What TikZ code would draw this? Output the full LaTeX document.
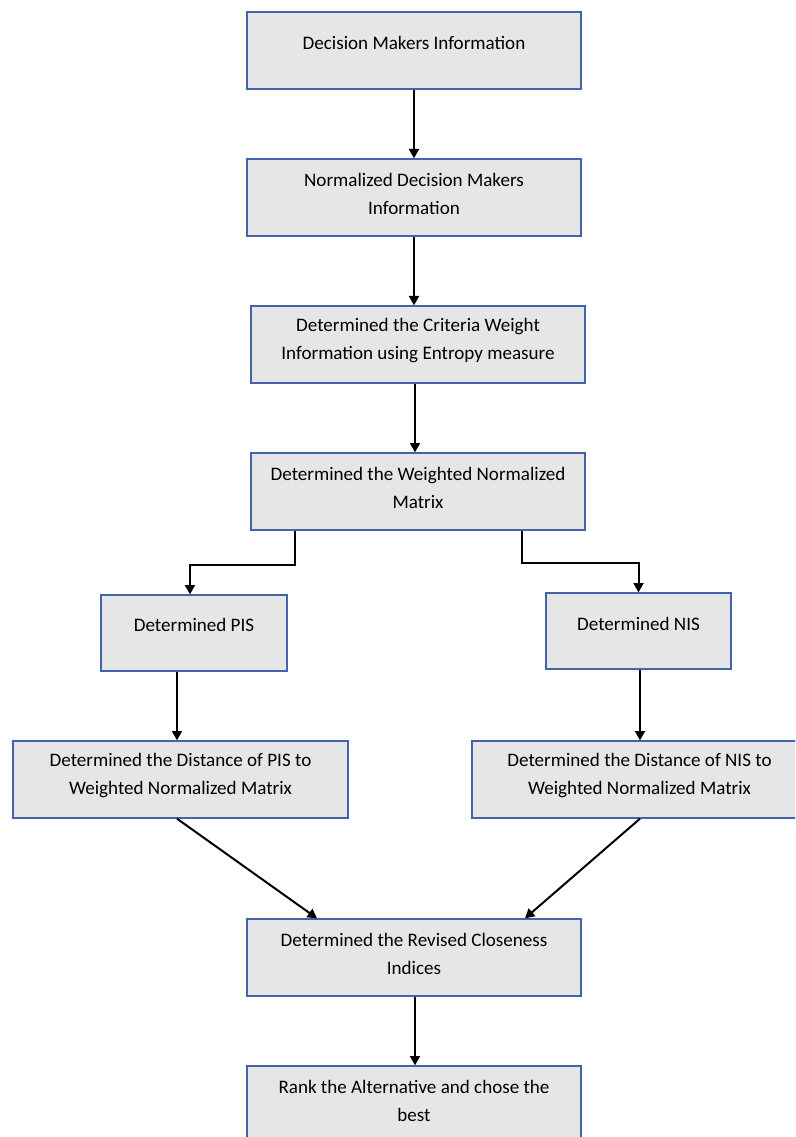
\documentclass[tikz,border=0pt]{standalone}
\usepackage{fontspec}
\setmainfont{Carlito}
\usetikzlibrary{calc,arrows.meta}
\definecolor{boxfill}{HTML}{E7E6E6}
\definecolor{boxline}{RGB}{68,100,170}
\def\pxu{0.75pt}
\tikzset{
  box/.style={draw=boxline, fill=boxfill, line width=1pt, inner sep=0pt},
  txt/.style={align=center, font=\fontsize{14.3}{21}\selectfont, text=black, inner sep=0pt},
  arr/.style={draw=black, line width=1.5pt, -{Triangle[length=7pt,width=7.5pt]}}
}
\begin{document}
\begin{tikzpicture}[x=0.75pt,y=-0.75pt]
\useasboundingbox (0,0) rectangle (795,1137);
\clip (0,0) rectangle (795,1137);
\fill[white] (0,0) rectangle (795,1137);
% boxes
\node[box, minimum width=334*\pxu, minimum height=77*\pxu] (b1) at (414,50.5) {};
\node[box, minimum width=334*\pxu, minimum height=77*\pxu] (b2) at (414,197.5) {};
\node[box, minimum width=334*\pxu, minimum height=77*\pxu] (b3) at (418,344.5) {};
\node[box, minimum width=334*\pxu, minimum height=77*\pxu] (b4) at (418,491.5) {};
\node[box, minimum width=186*\pxu, minimum height=76*\pxu] (b5) at (194,633) {};
\node[box, minimum width=185*\pxu, minimum height=76*\pxu] (b6) at (638.5,631) {};
\node[box, minimum width=335*\pxu, minimum height=77*\pxu] (b7) at (180.5,779.5) {};
\node[box, minimum width=335*\pxu, minimum height=77*\pxu] (b8) at (639.5,779.5) {};
\node[box, minimum width=334*\pxu, minimum height=77*\pxu] (b9) at (414,957.5) {};
\node[box, minimum width=334*\pxu, minimum height=77*\pxu] (b10) at (414,1104.5) {};
% texts
\node[txt] (t1) at (414,43) {Decision Makers Information};
\node[txt] (t2) at (414,194) {Normalized Decision Makers\\Information};
\node[txt] (t3) at (418,341) {Determined the Criteria Weight\\Information using Entropy measure};
\node[txt] (t4) at (418,488) {Determined the Weighted Normalized\\Matrix};
\node[txt] (t5) at (194,625) {Determined PIS};
\node[txt] (t6) at (638.5,624) {Determined NIS};
\node[txt] (t7) at (180.5,775.5) {Determined the Distance of PIS to\\Weighted Normalized Matrix};
\node[txt] (t8) at (639.5,776) {Determined the Distance of NIS to\\Weighted Normalized Matrix};
\node[txt] (t9) at (414,954) {Determined the Revised Closeness\\Indices};
\node[txt] (t10) at (414,1101) {Rank the Alternative and chose the\\best};
% connectors
\draw[arr] (b1.south) -- (b2.north);
\draw[arr] (b2.south) -- (b2.south |- b3.north);
\draw[arr] ($(b3.south)+(-3,0)$) -- ($(b4.north)+(-3,0)$);
\coordinate (k1) at (190,565);
\coordinate (k2) at (638.5,563);
\draw[arr] ($(b4.south)+(-123,0)$) |- (k1) -- (k1 |- b5.north);
\draw[arr] ($(b4.south)+(104,0)$) |- (k2) -- (b6.north);
\draw[arr] ($(b5.south)+(-17,0)$) -- ($(b7.north)+(-3.5,0)$);
\draw[arr] ($(b6.south)+(1.5,0)$) -- ($(b8.north)+(0.5,0)$);
\draw[arr] ($(b7.south)+(-3.5,0)$) -- ($(b9.north)+(-97,0)$);
\draw[arr] ($(b8.south)+(0.5,0)$) -- ($(b9.north)+(111,0)$);
\draw[arr] ($(b9.south)+(1,0)$) -- ($(b10.north)+(1,0)$);
\end{tikzpicture}
\end{document}
